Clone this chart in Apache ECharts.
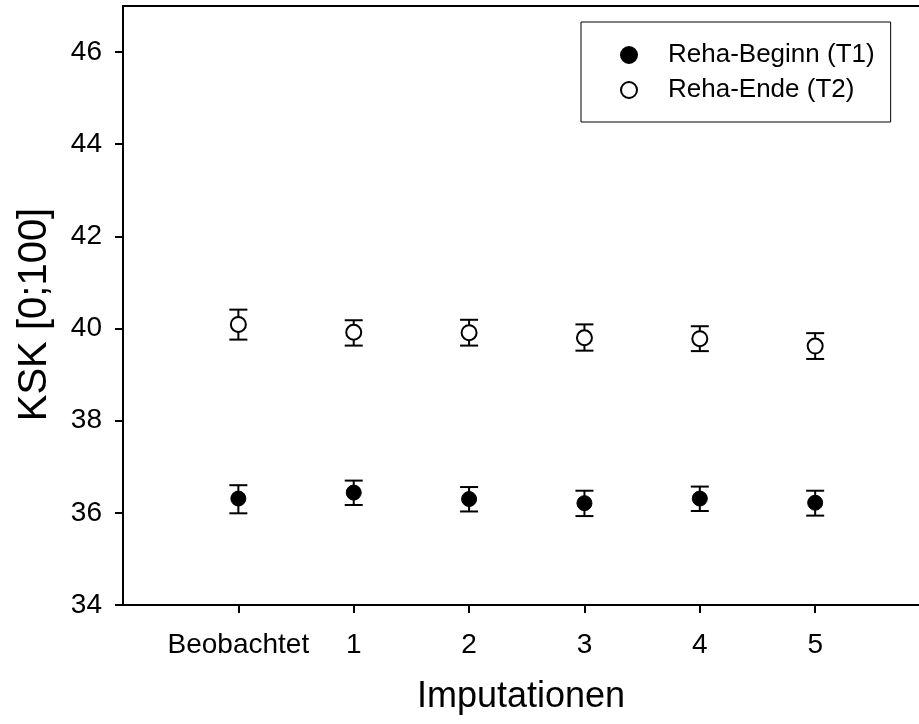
<!DOCTYPE html>
<html>
<head>
<meta charset="utf-8">
<script src="https://cdn.jsdelivr.net/npm/echarts@6/dist/echarts.min.js"></script>
<style>
  html, body { margin: 0; padding: 0; background: #fff; }
  #chart { width: 919px; height: 724px; }
</style>
</head>
<body>
<div id="chart"></div>
<script>
  // x positions of the groups, labels shown under them
  var groups = ['Beobachtet', '1', '2', '3', '4', '5'];
  var xPos = [1, 2, 3, 4, 5, 6];
  var yTicks = [34, 36, 38, 40, 42, 44, 46];

  // Reha-Beginn (T1): mean, lower, upper
  var t1Mean = [36.31, 36.44, 36.30, 36.21, 36.31, 36.22];
  var t1Low  = [35.99, 36.17, 36.03, 35.93, 36.04, 35.94];
  var t1High = [36.60, 36.70, 36.56, 36.48, 36.57, 36.48];

  // Reha-Ende (T2)
  var t2Mean = [40.09, 39.92, 39.91, 39.80, 39.78, 39.62];
  var t2Low  = [39.76, 39.63, 39.63, 39.52, 39.51, 39.34];
  var t2High = [40.41, 40.18, 40.19, 40.09, 40.05, 39.90];

  var font = 'Liberation Sans, Arial, sans-serif';

  function pts(mean) {
    var d = [];
    for (var i = 0; i < xPos.length; i++) d.push([xPos[i], mean[i]]);
    return d;
  }
  function bars(low, high) {
    var d = [];
    for (var i = 0; i < xPos.length; i++) d.push([xPos[i], low[i], high[i]]);
    return d;
  }

  function errorBar(params, api) {
    var x = api.value(0);
    var lo = api.coord([x, api.value(1)]);
    var hi = api.coord([x, api.value(2)]);
    var w = 9;
    var st = { stroke: '#000', lineWidth: 2 };
    return {
      type: 'group',
      children: [
        { type: 'line', shape: { x1: lo[0], y1: lo[1], x2: hi[0], y2: hi[1] }, style: st },
        { type: 'line', shape: { x1: lo[0] - w, y1: lo[1], x2: lo[0] + w, y2: lo[1] }, style: st },
        { type: 'line', shape: { x1: hi[0] - w, y1: hi[1], x2: hi[0] + w, y2: hi[1] }, style: st }
      ]
    };
  }

  var chart = echarts.init(document.getElementById('chart'));

  var option = {
    animation: false,
    backgroundColor: '#fff',
    grid: { left: 123, top: 6, right: 0, bottom: 119 },
    legend: {
      left: 581, top: 22,
      orient: 'vertical',
      data: ['Reha-Beginn (T1)', 'Reha-Ende (T2)'],
      borderColor: '#000', borderWidth: 1,
      padding: [18, 16, 17, 39],
      itemGap: 5,
      itemWidth: 16, itemHeight: 16,
      textStyle: { fontFamily: font, fontSize: 26, lineHeight: 30, color: '#000', padding: [0, 0, 0, 26] }
    },
    xAxis: [{
      type: 'value', min: 0, max: 6.9,
      name: 'Imputationen', nameLocation: 'middle', nameGap: 74,
      nameTextStyle: { fontFamily: font, fontSize: 36, color: '#000' },
      axisLine: { lineStyle: { color: '#000', width: 2 } },
      axisTick: { length: 8, customValues: xPos, lineStyle: { color: '#000', width: 2 } },
      axisLabel: {
        customValues: xPos, fontFamily: font, fontSize: 28, color: '#000', margin: 26,
        formatter: function (v) { return groups[xPos.indexOf(v)]; }
      },
      splitLine: { show: false }
    }, {
      // top frame line only
      type: 'value', position: 'top', min: 0, max: 6.9,
      axisLine: { show: true, lineStyle: { color: '#000', width: 2 } },
      axisTick: { show: false }, axisLabel: { show: false }, splitLine: { show: false }
    }],
    yAxis: {
      type: 'value', min: 34, max: 47,
      name: 'KSK [0;100]', nameLocation: 'middle', nameGap: 68, nameRotate: 90,
      nameTextStyle: { fontFamily: font, fontSize: 40, color: '#000', padding: [0, 18, 0, 0] },
      axisLine: { show: true, lineStyle: { color: '#000', width: 2 } },
      axisTick: { show: true, length: 8, customValues: yTicks, lineStyle: { color: '#000', width: 2 } },
      axisLabel: { customValues: yTicks, fontFamily: font, fontSize: 28, color: '#000', margin: 21 },
      splitLine: { show: false }
    },
    series: [
      { type: 'custom', renderItem: errorBar, data: bars(t1Low, t1High), z: 2, silent: true },
      { type: 'custom', renderItem: errorBar, data: bars(t2Low, t2High), z: 2, silent: true },
      {
        name: 'Reha-Beginn (T1)', type: 'scatter', data: pts(t1Mean),
        symbol: 'circle', symbolSize: 15, z: 5,
        itemStyle: { color: '#000', borderColor: '#000', borderWidth: 1, opacity: 1 }
      },
      {
        name: 'Reha-Ende (T2)', type: 'scatter', data: pts(t2Mean),
        symbol: 'circle', symbolSize: 15, z: 5,
        itemStyle: { color: '#fff', borderColor: '#000', borderWidth: 2, opacity: 1 }
      }
    ]
  };

  chart.setOption(option);
</script>
</body>
</html>
